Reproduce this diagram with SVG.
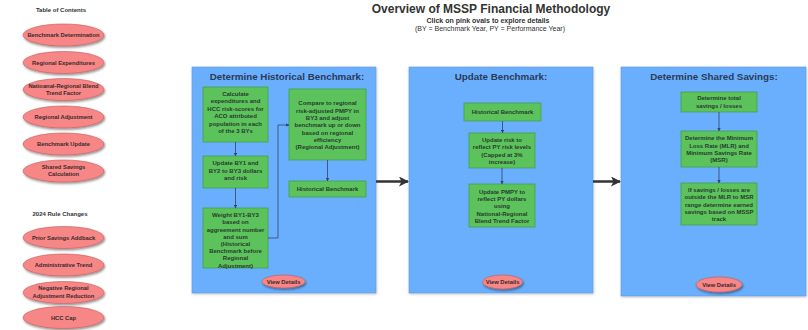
<svg xmlns="http://www.w3.org/2000/svg" width="808" height="330" viewBox="0 0 808 330">
<defs>
<filter id="sh" x="-20%" y="-30%" width="150%" height="180%">
<feDropShadow dx="1" dy="1.5" stdDeviation="0.9" flood-color="#000" flood-opacity="0.45"/>
</filter>
<filter id="psh" x="-5%" y="-5%" width="110%" height="110%">
<feDropShadow dx="0.5" dy="1" stdDeviation="0.8" flood-color="#000" flood-opacity="0.25"/>
</filter>
<marker id="sa" viewBox="0 0 6 6" refX="5.5" refY="3" markerWidth="4" markerHeight="4" orient="auto">
<path d="M0,0 L6,3 L0,6 Z" fill="#34416a"/>
</marker>
<marker id="ba" viewBox="0 0 10 10" refX="9" refY="5" markerWidth="4" markerHeight="4" orient="auto">
<path d="M0,0 L10,5 L0,10 L2.5,5 Z" fill="#333"/>
</marker>
</defs>
<style>
text{font-family:"Liberation Sans",Arial,sans-serif;font-weight:bold;text-anchor:middle;fill:#333}
.oval{fill:#f78686;stroke:#c45a5a;stroke-width:0.6;filter:url(#sh)}
.ot{font-size:5.8px;fill:#3a2a2a}
.panel{fill:#6aaffd;stroke:#5a97dc;stroke-width:0.6;filter:url(#psh)}
.pt{font-size:9.8px;fill:#2b3a57}
.box{fill:#5cc35c;stroke:#3d9a3d;stroke-width:0.7}
.bt{font-size:6px;fill:#2a3a2e}
.c{fill:none;stroke:#34416a;stroke-width:0.8;marker-end:url(#sa)}
.big{fill:none;stroke:#333;stroke-width:2.5;marker-end:url(#ba)}
.hd{font-size:6px;fill:#333}
</style>
<rect width="808" height="330" fill="#fff"/>

<!-- Header -->
<g id="header">
<text x="491" y="12.5" font-size="12" fill="#3a3a3a">Overview of MSSP Financial Methodology</text>
<text x="488" y="22.5" font-size="7">Click on pink ovals to explore details</text>
<text x="490" y="30.5" font-size="7" font-weight="normal" style="font-weight:normal">(BY = Benchmark Year, PY = Performance Year)</text>
</g>

<!-- Table of contents -->
<g id="toc">
<text class="hd" x="61" y="12">Table of Contents</text>
<g id="toc-benchmark-determination"><ellipse class="oval" cx="63.5" cy="35" rx="40.5" ry="11"/><text class="ot" x="63.5" y="37">Benchmark Determination</text></g>
<g id="toc-regional-expenditures"><ellipse class="oval" cx="63.5" cy="62.5" rx="40.5" ry="11"/><text class="ot" x="63.5" y="64.5">Regional Expenditures</text></g>
<g id="toc-blend"><ellipse class="oval" cx="63.5" cy="89.5" rx="40.5" ry="11"/><text class="ot" x="63.5" y="88">Natioanal-Regional Blend</text><text class="ot" x="63.5" y="95">Trend Factor</text></g>
<g id="toc-regional-adjustment"><ellipse class="oval" cx="63.5" cy="117" rx="40.5" ry="11"/><text class="ot" x="63.5" y="119">Regional Adjustment</text></g>
<g id="toc-benchmark-update"><ellipse class="oval" cx="63.5" cy="144" rx="40.5" ry="11"/><text class="ot" x="63.5" y="146">Benchmark Update</text></g>
<g id="toc-shared-savings"><ellipse class="oval" cx="63.5" cy="171" rx="40.5" ry="11"/><text class="ot" x="63.5" y="169">Shared Savings</text><text class="ot" x="63.5" y="176">Calculation</text></g>
</g>

<g id="rules">
<text class="hd" x="60" y="216">2024 Rule Changes</text>
<g id="rule-prior-savings"><ellipse class="oval" cx="63.5" cy="237.5" rx="40.5" ry="11"/><text class="ot" x="63.5" y="239.8">Prior Savings Addback</text></g>
<g id="rule-admin-trend"><ellipse class="oval" cx="63.5" cy="265" rx="40.5" ry="11"/><text class="ot" x="63.5" y="267.1">Administrative Trend</text></g>
<g id="rule-negative"><ellipse class="oval" cx="63.5" cy="292.5" rx="40.5" ry="11"/><text class="ot" x="63.5" y="290.4">Negative Regional</text><text class="ot" x="63.5" y="297.8">Adjustment Reduction</text></g>
<g id="rule-hcc"><ellipse class="oval" cx="63.5" cy="317.5" rx="40.5" ry="11"/><text class="ot" x="63.5" y="319.8">HCC Cap</text></g>
</g>

<!-- Panels -->
<g id="panel-historical">
<rect class="panel" x="192" y="67" width="184" height="226"/>
<text class="pt" x="287" y="79.5">Determine Historical Benchmark:</text>
</g>
<g id="panel-update">
<rect class="panel" x="409" y="67" width="184" height="226"/>
<text class="pt" x="501" y="79.5">Update Benchmark:</text>
</g>
<g id="panel-shared">
<rect class="panel" x="621" y="67" width="185" height="229"/>
<text class="pt" x="714" y="79.5">Determine Shared Savings:</text>
</g>

<!-- Panel 1 nodes -->
<g id="calc">
<rect class="box" x="203" y="87" width="65" height="55"/>
<text class="bt" x="235.5" y="95.5">Calculate</text>
<text class="bt" x="235.5" y="103">expenditures and</text>
<text class="bt" x="235.5" y="110.5">HCC risk-scores for</text>
<text class="bt" x="235.5" y="118">ACO attributed</text>
<text class="bt" x="235.5" y="125.5">population in each</text>
<text class="bt" x="235.5" y="133">of the 3 BYs</text>
</g>
<g id="update-by">
<rect class="box" x="203" y="156" width="65" height="32"/>
<text class="bt" x="235.5" y="165.4">Update BY1 and</text>
<text class="bt" x="235.5" y="172.8">BY2 to BY3 dollars</text>
<text class="bt" x="235.5" y="180.1">and risk</text>
</g>
<g id="weight">
<rect class="box" x="203" y="208" width="65" height="60"/>
<text class="bt" x="235.5" y="217.1">Weight BY1-BY3</text>
<text class="bt" x="235.5" y="224.3">based on</text>
<text class="bt" x="235.5" y="231.5">aggreement number</text>
<text class="bt" x="235.5" y="238.7">and sum</text>
<text class="bt" x="235.5" y="245.9">(Historical</text>
<text class="bt" x="235.5" y="253.1">Benchmark before</text>
<text class="bt" x="235.5" y="260.3">Regional</text>
<text class="bt" x="235.5" y="267.5">Adjustment)</text>
</g>
<g id="compare">
<rect class="box" x="289" y="89" width="77" height="71"/>
<text class="bt" x="327.5" y="105.4">Compare to regional</text>
<text class="bt" x="327.5" y="112.7">risk-adjusted PMPY in</text>
<text class="bt" x="327.5" y="120">BY3 and adjust</text>
<text class="bt" x="327.5" y="127.3">benchmark up or down</text>
<text class="bt" x="327.5" y="134.6">based on regional</text>
<text class="bt" x="327.5" y="141.9">efficiency</text>
<text class="bt" x="327.5" y="149.2">(Regional Adjustment)</text>
</g>
<g id="hist1">
<rect class="box" x="289" y="181" width="77" height="16"/>
<text class="bt" x="327.5" y="191">Historical Benchmark</text>
</g>
<g id="vd1">
<ellipse class="oval" cx="283.5" cy="281.5" rx="21.5" ry="6.5"/>
<text class="ot" x="283.5" y="283.6">View Details</text>
</g>

<!-- Panel 2 nodes -->
<g id="hist2">
<rect class="box" x="464" y="103" width="77" height="18"/>
<text class="bt" x="502.5" y="114">Historical Benchmark</text>
</g>
<g id="update-risk">
<rect class="box" x="469" y="133" width="66" height="35"/>
<text class="bt" x="502" y="142.1">Update risk to</text>
<text class="bt" x="502" y="149.4">reflect PY risk levels</text>
<text class="bt" x="502" y="156.8">(Capped at 3%</text>
<text class="bt" x="502" y="164.1">increase)</text>
</g>
<g id="update-pmpy">
<rect class="box" x="469" y="184" width="66" height="43"/>
<text class="bt" x="502" y="193.8">Update PMPY to</text>
<text class="bt" x="502" y="201.1">reflect PY dollars</text>
<text class="bt" x="502" y="208.4">using</text>
<text class="bt" x="502" y="215.8">National-Regional</text>
<text class="bt" x="502" y="223.1">Blend Trend Factor</text>
</g>
<g id="vd2">
<ellipse class="oval" cx="502.5" cy="282" rx="20" ry="7"/>
<text class="ot" x="502.5" y="284.1">View Details</text>
</g>

<!-- Panel 3 nodes -->
<g id="total">
<rect class="box" x="681" y="92" width="76" height="20"/>
<text class="bt" x="719" y="100.4">Determine total</text>
<text class="bt" x="719" y="107.8">savings / losses</text>
</g>
<g id="mlr">
<rect class="box" x="681" y="131" width="76" height="36"/>
<text class="bt" x="719" y="140.4">Determine the Minimum</text>
<text class="bt" x="719" y="147.6">Loss Rate (MLR) and</text>
<text class="bt" x="719" y="154.8">Minimum Savings Rate</text>
<text class="bt" x="719" y="162.1">(MSR)</text>
</g>
<g id="earned">
<rect class="box" x="681" y="183" width="76" height="42"/>
<text class="bt" x="719" y="192.1">If savings / losses are</text>
<text class="bt" x="719" y="199.4">outside the MLR to MSR</text>
<text class="bt" x="719" y="206.8">range determine earned</text>
<text class="bt" x="719" y="214.1">savings based on MSSP</text>
<text class="bt" x="719" y="221.4">track</text>
</g>
<g id="vd3">
<ellipse class="oval" cx="719" cy="284.5" rx="23" ry="7.5"/>
<text class="ot" x="719" y="286.6">View Details</text>
</g>

<!-- Connectors -->
<g id="connectors">
<path class="c" d="M235.5,142 V156"/>
<path class="c" d="M235.5,188 V208"/>
<path class="c" d="M268,238 H278 V125 H289"/>
<path class="c" d="M327.5,160 V181"/>
<path class="c" d="M502.5,121 V133"/>
<path class="c" d="M502,168 V184"/>
<path class="c" d="M719,112 V131"/>
<path class="c" d="M719,167 V183"/>
<path class="big" d="M376,181.5 H408"/>
<path class="big" d="M593,181.5 H620"/>
</g>
</svg>
